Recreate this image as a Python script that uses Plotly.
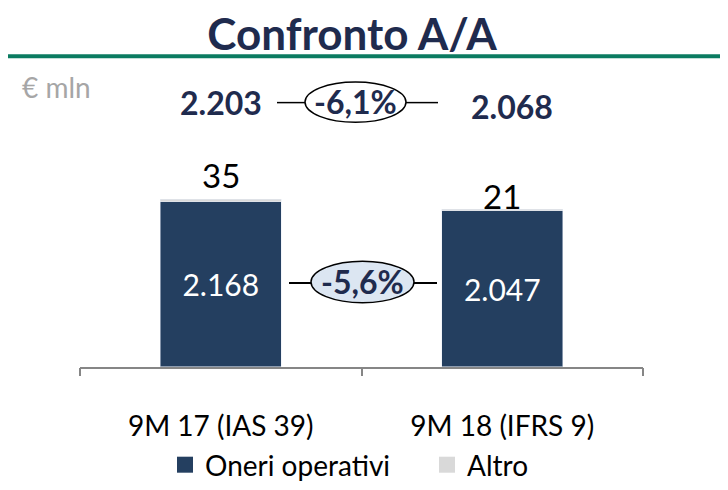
import plotly.graph_objects as go

categories = ["9M 17 (IAS 39)", "9M 18 (IFRS 9)"]
oneri = [2168, 2047]
altro = [35, 21]
series_names = ["Oneri operativi", "Altro"]

NAVY = "#243F60"
GREY = "#D9D9D9"
TXT = "#1F2B4E"
OFF = 8  # page body margin
W, H = 728 - OFF, 490 - OFF
FONT = "Lato"

def X(px):
    return (px - OFF) / W

def Y(py):
    return 1 - (py - OFF) / H

def fmt(v):
    return f"{v:,}".replace(",", ".")

def pct(a, b):
    return f"{(b / a - 1) * 100:.1f}%".replace(".", ",")

totals = [o + a for o, a in zip(oneri, altro)]
colors = [NAVY, GREY]

fig = go.Figure()
fig.add_bar(x=categories, y=oneri, name=series_names[0], marker_color=NAVY, width=0.43,
            text=[fmt(v) for v in oneri], textposition="inside", insidetextanchor="middle",
            textfont=dict(size=30, color="white", family=FONT), hoverinfo="skip",
            showlegend=False, legendgroup="a")
fig.add_bar(x=categories, y=altro, name=series_names[1], marker_color=GREY, width=0.43,
            hoverinfo="skip", showlegend=False, legendgroup="b")
# legend entries with larger square swatches
for nm, col, grp in zip(series_names, colors, ["a", "b"]):
    fig.add_scatter(x=[None], y=[None], mode="markers", name=nm, legendgroup=grp,
                    marker=dict(symbol="square", size=16, color=col), hoverinfo="skip")

shapes = [
    dict(type="line", xref="paper", yref="paper", x0=X(8), x1=1, y0=Y(57), y1=Y(57),
         line=dict(color="#0B7B61", width=4)),
    dict(type="line", xref="paper", yref="paper", x0=X(277), x1=X(305), y0=Y(104), y1=Y(104),
         line=dict(color="black", width=1.5)),
    dict(type="line", xref="paper", yref="paper", x0=X(406), x1=X(438), y0=Y(104), y1=Y(104),
         line=dict(color="black", width=1.5)),
    dict(type="circle", xref="paper", yref="paper", x0=X(305), x1=X(406), y0=Y(83), y1=Y(124),
         fillcolor="white", line=dict(color="black", width=1.5)),
    dict(type="line", xref="paper", yref="paper", x0=X(289), x1=X(437), y0=Y(287), y1=Y(287),
         line=dict(color="black", width=2)),
    dict(type="circle", xref="paper", yref="paper", x0=X(311), x1=X(414), y0=Y(265), y1=Y(307),
         fillcolor="#DCE6F2", line=dict(color="black", width=1.5)),
]

def ann(text, px, py, size, color, xanchor="center"):
    return dict(text=text, x=X(px), y=Y(py), xref="paper", yref="paper", xanchor=xanchor,
                yanchor="middle", showarrow=False, font=dict(size=size, color=color, family=FONT))

annotations = [
    ann("€ mln", 20, 88, 28, "#A6A6A6", xanchor="left"),
    ann(f"<b>{fmt(totals[0])}</b>", 221, 104, 32, TXT),
    ann(f"<b>{fmt(totals[1])}</b>", 512, 108, 32, TXT),
    ann(f"<b>{pct(totals[0], totals[1])}</b>", 355, 103, 32, TXT),
    ann(f"<b>{pct(oneri[0], oneri[1])}</b>", 362, 286, 32, TXT),
]
shifts = [24, 13]
for c, t, a, s in zip(categories, totals, altro, shifts):
    annotations.append(dict(text=str(a), x=c, y=t, xref="x", yref="y", yanchor="middle",
                            yshift=s, showarrow=False,
                            font=dict(size=33, color="black", family=FONT)))

fig.update_layout(
    width=W, height=H,
    margin=dict(l=0, r=0, t=0, b=0),
    paper_bgcolor="white", plot_bgcolor="white",
    barmode="stack",
    title=dict(text="<b>Confronto A/A</b>", x=X(352), xanchor="center", y=Y(35), yanchor="middle",
               font=dict(size=44, color=TXT, family=FONT)),
    xaxis=dict(domain=[X(80), X(643)], range=[-0.5, 1.5], showline=True, linecolor="#868686",
               linewidth=1.5, ticks="outside", tickson="boundaries", ticklen=8,
               tickcolor="#868686", tickwidth=1.5, ticklabelstandoff=34,
               tickfont=dict(size=28, color="black", family=FONT), showgrid=False),
    yaxis=dict(domain=[Y(372), Y(63)], range=[0, 4000], visible=False, showgrid=False),
    showlegend=True,
    legend=dict(orientation="h", x=X(165), xanchor="left", y=Y(472), yanchor="middle",
                entrywidth=217, font=dict(size=28, color="black", family=FONT),
                traceorder="normal", itemsizing="trace"),
    shapes=shapes,
    annotations=annotations,
)

fig.write_html("out.html")
